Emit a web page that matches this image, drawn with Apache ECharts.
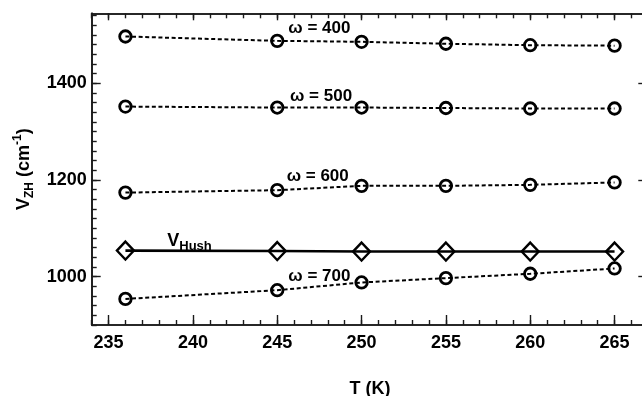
<!DOCTYPE html>
<html><head><meta charset="utf-8">
<script src="https://cdn.jsdelivr.net/npm/echarts@6/dist/echarts.min.js"></script>
<style>html,body{margin:0;padding:0;background:#fff;overflow:hidden}#c{width:642px;height:396px}</style>
</head><body><div id="c"></div>
<script>
// Data
const temps = [236, 245, 250, 255, 260, 265];
const w400 = [1497, 1488, 1486, 1482, 1479, 1478];
const w500 = [1352, 1350, 1350, 1349, 1348, 1348];
const w600 = [1174, 1179, 1188, 1188, 1190, 1195];
const w700 = [954, 972, 988, 997, 1006, 1017];
const vHush = [1054, 1053, 1052, 1052, 1052, 1052];
const xTickLabels = [235, 240, 245, 250, 255, 260, 265];
const yTickLabels = [1000, 1200, 1400];

const X_MIN = 234, X_MAX = 267, Y_MIN = 900, Y_MAX = 1545;
const xMinor = []; for (let v = X_MIN; v <= X_MAX; v++) xMinor.push(v);
const yMinor = []; for (let v = Y_MIN; v <= Y_MAX; v += 20) yMinor.push(v);
const yHund = []; for (let v = Y_MIN; v <= Y_MAX; v += 100) yHund.push(v);

const FONT = "'Liberation Sans', Arial, sans-serif";
const AX = '#1a1a1a';
const pairs = arr => temps.map((t, i) => [t, arr[i]]);

function xAx(pos, ticks, len, opts) {
  return Object.assign({
    type: 'value', min: X_MIN, max: X_MAX, position: pos,
    axisLine: { show: true, onZero: false, lineStyle: { color: AX, width: 1.6 } },
    axisTick: { show: true, inside: true, length: len, customValues: ticks, lineStyle: { color: AX, width: 1.4 } },
    axisLabel: { show: false },
    splitLine: { show: false }
  }, opts || {});
}
function yAx(pos, ticks, len, opts) {
  return Object.assign({
    type: 'value', min: Y_MIN, max: Y_MAX, position: pos,
    axisLine: { show: true, onZero: false, lineStyle: { color: AX, width: 1.6 } },
    axisTick: { show: true, inside: true, length: len, customValues: ticks, lineStyle: { color: AX, width: 1.4 } },
    axisLabel: { show: false },
    splitLine: { show: false }
  }, opts || {});
}

const circleSeries = (name, arr, label, coord) => ({
  name, type: 'line', data: pairs(arr), xAxisIndex: 0, yAxisIndex: 0,
  symbol: 'circle', symbolSize: 11.5,
  itemStyle: { color: 'rgba(0,0,0,0)', borderColor: '#000', borderWidth: 2.8 },
  lineStyle: { color: '#000', width: 2, type: [4, 2.6] },
  z: 3,
  markPoint: {
    symbol: 'circle', symbolSize: 1, itemStyle: { color: 'rgba(0,0,0,0)' },
    label: { show: true, position: 'inside', formatter: label, color: '#000', fontFamily: FONT, fontWeight: 'bold', fontSize: 17 },
    data: [{ coord }]
  }
});

const option = {
  animation: false,
  backgroundColor: '#fff',
  grid: { left: 91.7, right: -6.3, top: 13.3, bottom: 71, containLabel: false, outerBoundsMode: 'none' },
  xAxis: [
    xAx('bottom', xTickLabels, 10, {
      axisLabel: { show: true, customValues: xTickLabels, margin: 9, color: '#000', fontFamily: FONT, fontWeight: 'bold', fontSize: 18 },
      name: 'T (K)', nameLocation: 'middle', nameGap: 55,
      nameTextStyle: { color: '#000', fontFamily: FONT, fontWeight: 'bold', fontSize: 18 }
    }),
    xAx('bottom', xMinor, 5),
    xAx('top', xTickLabels, 7),
    xAx('top', xMinor, 5)
  ],
  yAxis: [
    yAx('left', yTickLabels, 9, {
      axisLabel: { show: true, customValues: yTickLabels, margin: 5, formatter: v => String(v), color: '#000', fontFamily: FONT, fontWeight: 'bold', fontSize: 18 },
      name: '{v|V}{sub|ZH}{n| (cm}{sup|-1}{n|)}', nameLocation: 'middle', nameRotate: 90, nameGap: 55,
      nameTextStyle: {
        color: '#000', fontFamily: FONT, fontWeight: 'bold', fontSize: 18,
        rich: {
          v: { fontFamily: FONT, fontWeight: 'bold', fontSize: 18, color: '#000', lineHeight: 24 },
          n: { fontFamily: FONT, fontWeight: 'bold', fontSize: 18, color: '#000', lineHeight: 24 },
          sub: { fontFamily: FONT, fontWeight: 'bold', fontSize: 12, color: '#000', verticalAlign: 'bottom', lineHeight: 24, padding: [9, 0, 0, 0] },
          sup: { fontFamily: FONT, fontWeight: 'bold', fontSize: 12, color: '#000', verticalAlign: 'top', lineHeight: 24, padding: [0, 0, 9, 0] }
        }
      }
    }),
    yAx('left', yMinor, 5),
    yAx('right', yTickLabels, 10),
    yAx('right', yHund, 6)
  ],
  series: [
    circleSeries('w400', w400, 'ω = 400', [247.5, 1514]),
    circleSeries('w500', w500, 'ω = 500', [247.6, 1374]),
    circleSeries('w600', w600, 'ω = 600', [247.4, 1207]),
    circleSeries('w700', w700, 'ω = 700', [247.5, 1000]),
    {
      name: 'VHush', type: 'line', data: pairs(vHush), xAxisIndex: 0, yAxisIndex: 0,
      symbol: 'diamond', symbolSize: [17, 18],
      itemStyle: { color: 'rgba(0,0,0,0)', borderColor: '#000', borderWidth: 2.4 },
      lineStyle: { color: '#000', width: 2.6 },
      z: 4,
      markPoint: {
        symbol: 'circle', symbolSize: 1, itemStyle: { color: 'rgba(0,0,0,0)' },
        label: {
          show: true, position: 'inside', formatter: '{v|V}{s|Hush}', color: '#000',
          rich: {
            v: { fontFamily: FONT, fontWeight: 'bold', fontSize: 18, color: '#000', lineHeight: 24 },
            s: { fontFamily: FONT, fontWeight: 'bold', fontSize: 13, color: '#000', verticalAlign: 'bottom', lineHeight: 24, padding: [8, 0, 0, 0] }
          }
        },
        data: [{ coord: [239.8, 1074] }]
      }
    }
  ]
};
const chart = echarts.init(document.getElementById('c'), null, { renderer: 'canvas' });
chart.setOption(option);
</script>
</body></html>
